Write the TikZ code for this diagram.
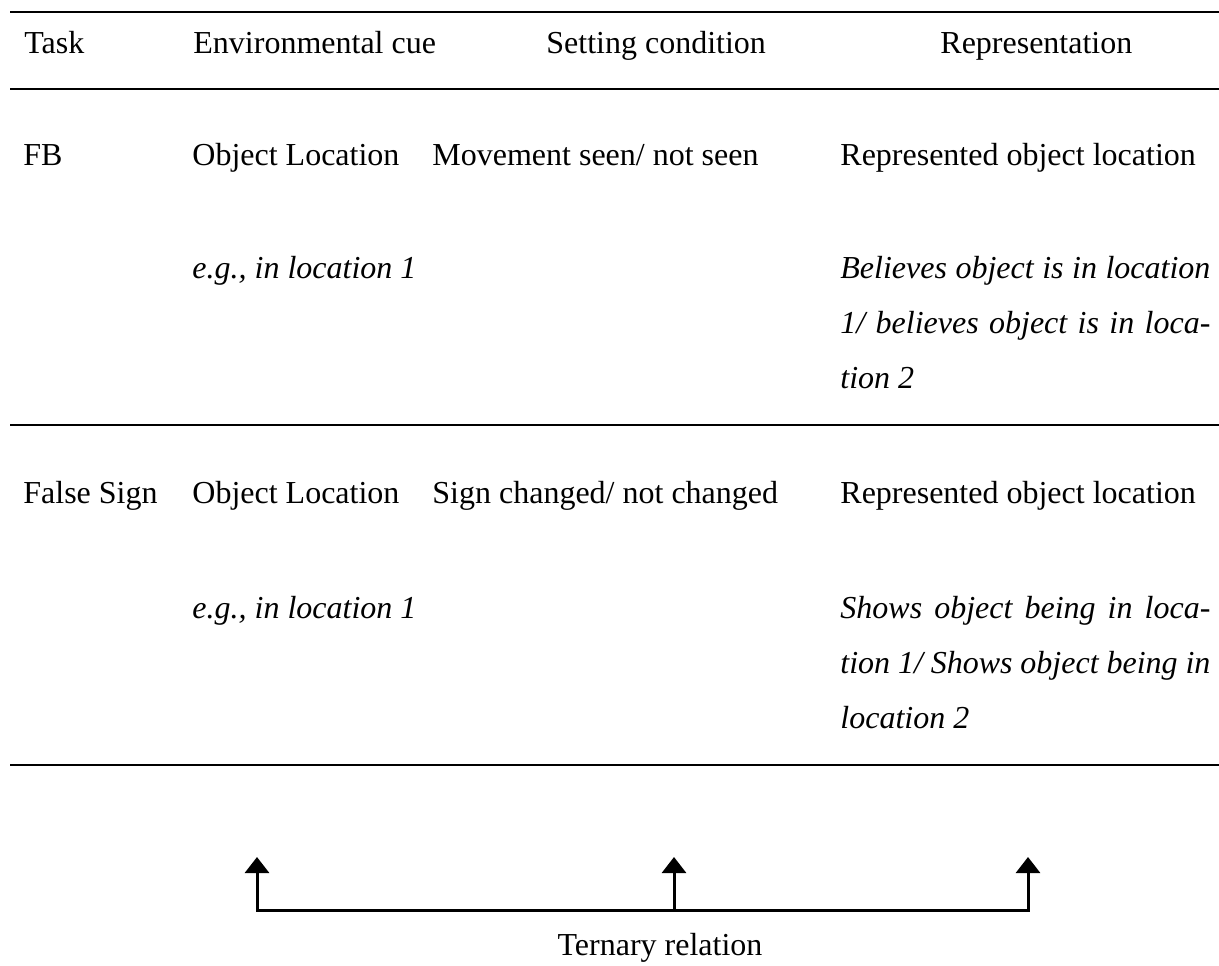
\documentclass[tikz,border=0pt]{standalone}
\usepackage{fontspec}
\setmainfont{Liberation Serif}
\usetikzlibrary{arrows.meta,positioning}

\begin{document}
\begin{tikzpicture}[
                    x=0.5pt, y=-0.5pt,
                    every node/.style={
                        inner sep=0pt,
                        anchor=base west,
                        font=\fontsize{16}{27.5}\selectfont
                    },
                    example/.style={font=\fontsize{16}{27.5}\selectfont\itshape},
                    repbox/.style={example, text width=185pt, align=justify},
                    rule/.style={line width=1.1pt},
                    link/.style={line width=1.5pt, -{Triangle[width=12pt,length=8pt]}}
                ]
                    \useasboundingbox (0,0) rectangle (1219,965);

                    % Rules
                    \draw[rule] (10,12) -- (1219,12);
                    \draw[rule] (10,89) -- (1219,89);
                    \draw[rule] (10,425) -- (1219,425);
                    \draw[rule] (10,765) -- (1219,765);

                    % Header
                    \node (task) at (24,53) {Task};
                    \node (cue) at (193,53) {Environmental cue};
                    \node (cond) at (546,53) {Setting condition};
                    \node (rep) at (940,53) {Representation};

                    % FB row
                    \node (fb) at (23,165) {FB};
                    \node (fbcue) at (192,165) {Object Location};
                    \node (fbcond) at (432,165) {Movement seen/ not seen};
                    \node (fbrep) at (840,165) {Represented object location};
                    \node[example] (fbeg) at (192,278) {e.g., in location 1};
                    \node[repbox] (fbex) at (840,278) {Believes object is in location\linebreak 1/ believes object is in loca-\linebreak tion 2};

                    % False Sign row
                    \node (fs) at (23,503) {False Sign};
                    \node (fscue) at (192,503) {Object Location};
                    \node (fscond) at (432,503) {Sign changed/ not changed};
                    \node (fsrep) at (840,503) {Represented object location};
                    \node[example] (fseg) at (192,618) {e.g., in location 1};
                    \node[repbox] (fsex) at (840,618) {Shows object being in loca-\linebreak tion 1/ Shows object being in\linebreak location 2};

                    % Ternary relation
                    \coordinate (cuetip) at (257,857);
                    \coordinate (condtip) at (674,857);
                    \coordinate (reptip) at (1028,857);
                    \coordinate (cuefoot) at (257,910);
                    \coordinate (condfoot) at (674,910);
                    \coordinate (repfoot) at (1028,910);
                    \draw[link, {Triangle[width=12pt,length=8pt]}-{Triangle[width=12pt,length=8pt]}] (cuetip) -- (cuefoot) -- (repfoot) -- (reptip);
                    \draw[link] (condfoot) -- (condtip);
                    \node[anchor=base] (tern) at (660,955) {Ternary relation};
                \end{tikzpicture}
\end{document}
